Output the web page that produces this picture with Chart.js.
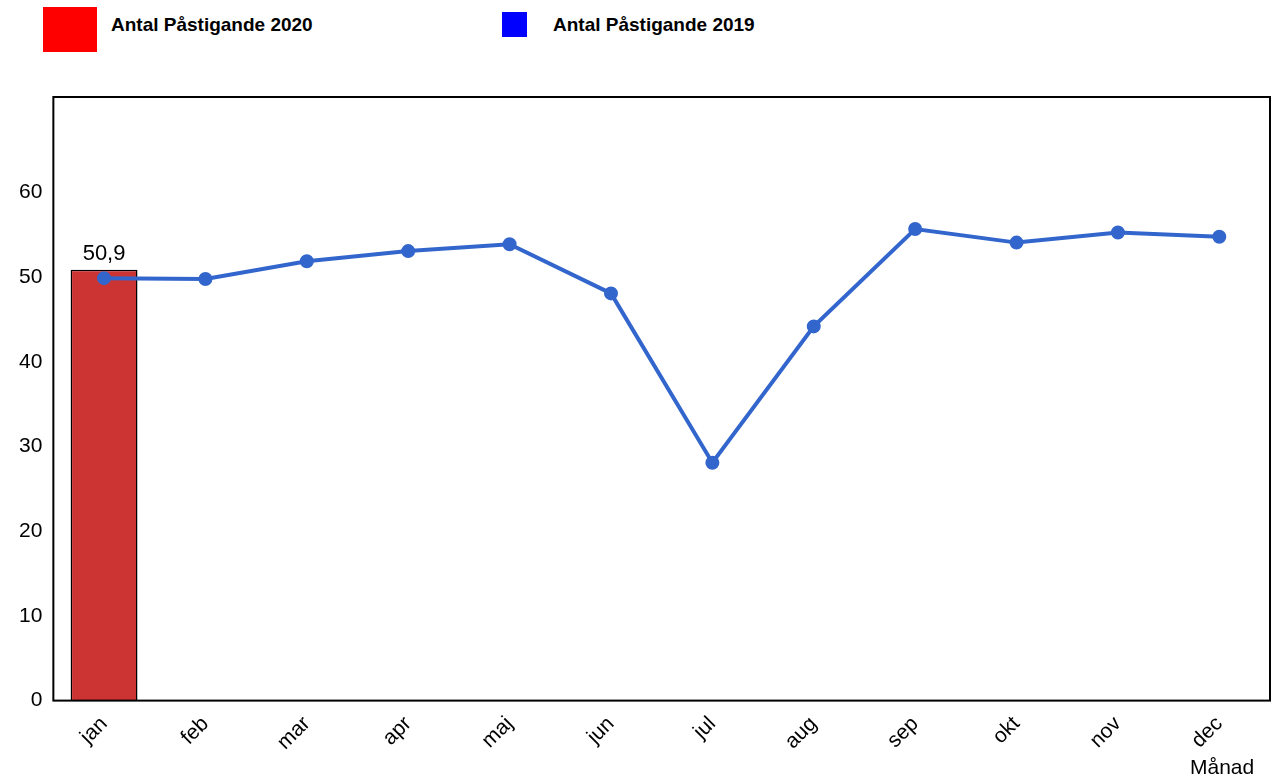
<!DOCTYPE html>
<html><head><meta charset="utf-8">
<script src="https://cdn.jsdelivr.net/npm/chart.js@4"></script>
<style>
body{margin:0;background:#fff;font-family:"Liberation Sans",Arial,sans-serif;}
#wrap{position:absolute;left:0;top:0;width:1284px;height:783px;}
.lg{position:absolute;font-weight:bold;font-size:19px;color:#000;}
.box{position:absolute;}
#cv{position:absolute;left:0;top:60px;}
#xl{position:absolute;left:1190px;top:755px;font-size:21px;}
</style></head><body>
<div id="wrap">
<div class="box" style="left:43px;top:7px;width:54px;height:45px;background:#ff0000"></div>
<div class="lg" style="left:111px;top:14px">Antal Påstigande 2020</div>
<div class="box" style="left:502px;top:12px;width:25px;height:25px;background:#0000ff"></div>
<div class="lg" style="left:553px;top:14px">Antal Påstigande 2019</div>
<canvas id="cv" width="1284" height="723"></canvas>
<div id="xl">Månad</div>
</div>
<script>
const months=["jan","feb","mar","apr","maj","jun","jul","aug","sep","okt","nov","dec"];
const values2020=[50.9,null,null,null,null,null,null,null,null,null,null,null];
const values2019=[49.9,49.8,51.9,53.1,53.9,48.1,28.1,44.2,55.7,54.1,55.3,54.8];
const frame={id:'frame',afterDraw(c){const a=c.chartArea,x=c.ctx;x.save();x.strokeStyle='#000';x.lineWidth=2;x.strokeRect(a.left,a.top,a.right-a.left,a.bottom-a.top);
const m=c.getDatasetMeta(0);x.fillStyle='#000';x.font='22px "Liberation Sans",Arial';x.textAlign='center';
m.data.forEach((b,i)=>{if(values2020[i]!=null)x.fillText(String(values2020[i]).replace('.',','),b.x,b.y-10);});x.restore();}};
new Chart(document.getElementById('cv'),{
data:{labels:months,datasets:[
{type:'bar',data:values2020,backgroundColor:'#cc3333',borderColor:'#000',borderWidth:1.5,categoryPercentage:1,barPercentage:0.66,order:2},
{type:'line',data:values2019,borderColor:'#3366cc',backgroundColor:'#3366cc',borderWidth:4,pointRadius:5,pointBackgroundColor:'#3366cc',tension:0,order:1}
]},
options:{responsive:false,animation:false,layout:{padding:{left:16,right:14,top:37,bottom:25}},
plugins:{legend:{display:false},tooltip:{enabled:false}},
scales:{x:{offset:true,grid:{display:false},border:{display:false},ticks:{color:'#000',font:{size:21,family:'"Liberation Sans",Arial'},maxRotation:45,minRotation:45}},
y:{min:0,max:71.3,grid:{display:false},border:{display:false},ticks:{stepSize:10,color:'#000',font:{size:21,family:'"Liberation Sans",Arial'},callback:v=>v%10===0?v:''}}}},
plugins:[frame]});
</script></body></html>
